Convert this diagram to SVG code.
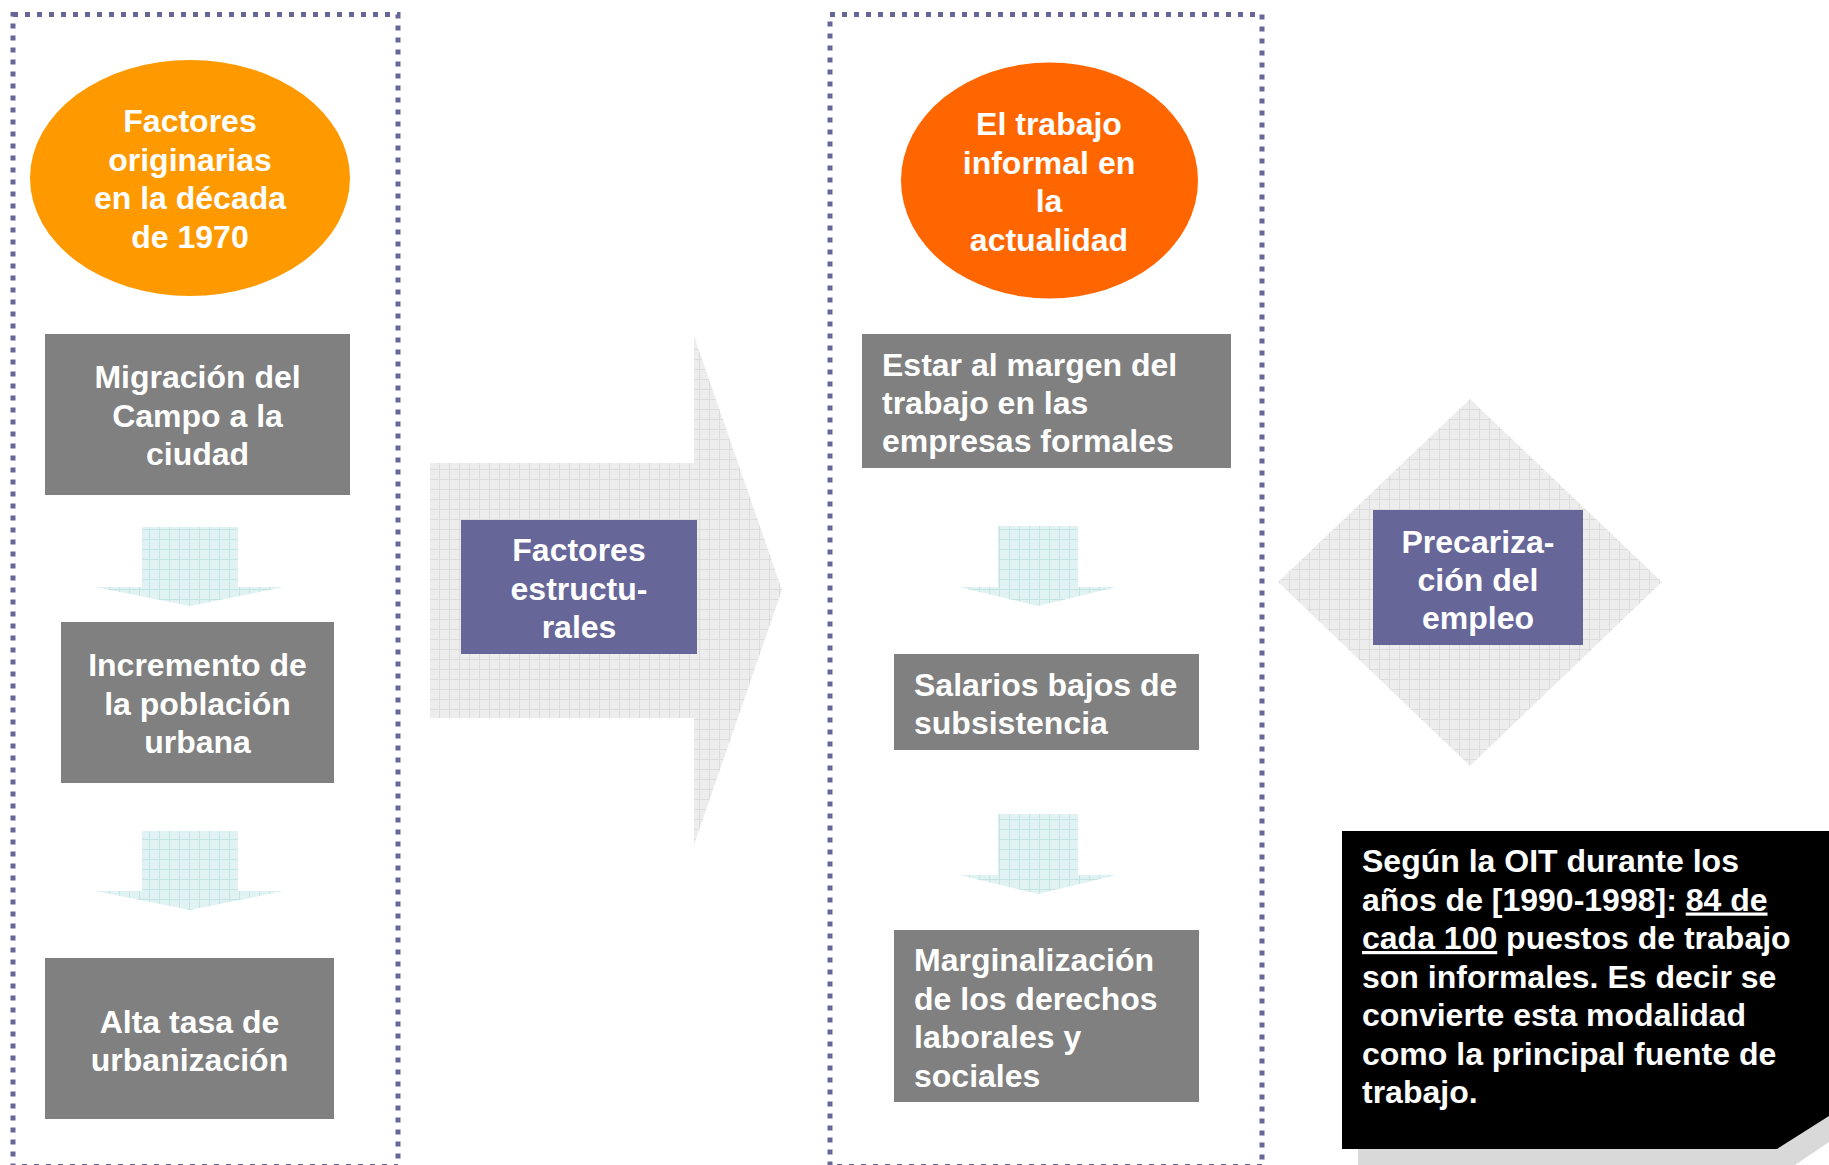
<svg xmlns="http://www.w3.org/2000/svg" width="1829" height="1165" viewBox="0 0 1829 1165">
  <style>
    text { font-family: "Liberation Sans", Arial, sans-serif; font-weight: bold; font-size: 32px; fill: #ffffff; }
    .c { text-anchor: middle; }
    .frame { fill: none; stroke: #666699; stroke-width: 5; stroke-dasharray: 5 7; }
    .gray { fill: #808080; }
    .purple { fill: #666699; }
    .u { text-decoration: underline; }
  </style>
  <defs>
    <pattern id="gridGray" width="10" height="10" patternUnits="userSpaceOnUse">
      <rect width="10" height="10" fill="#ededed"/>
      <path d="M9.5 0V10M0 9.5H10" stroke="#dcdcdc" stroke-width="1"/>
    </pattern>
    <pattern id="gridCyan" width="10" height="10" patternUnits="userSpaceOnUse">
      <rect width="10" height="10" fill="#e0f2f2"/>
      <path d="M9.5 0V10M0 9.5H10" stroke="#c4e3e3" stroke-width="1"/>
    </pattern>
  </defs>

  <rect width="1829" height="1165" fill="#ffffff"/>

  <!-- dotted frames around the two columns -->
  <rect class="frame" x="13" y="14.5" width="385" height="1152"/>
  <rect class="frame" x="830" y="14.5" width="432" height="1152"/>

  <!-- connectors -->
  <g id="connectors">
    <polygon fill="url(#gridCyan)" points="142,527 238,527 238,587 284,587 190,606 95,587 142,587"/>
    <polygon fill="url(#gridCyan)" points="142,831 238,831 238,891 284,891 190,910 95,891 142,891"/>
    <polygon fill="url(#gridCyan)" points="998,526 1078,526 1078,587 1117,587 1038,606 959,587 998,587"/>
    <polygon fill="url(#gridCyan)" points="998,814 1078,814 1078,875 1117,875 1038,894 959,875 998,875"/>
    <polygon fill="url(#gridGray)" points="430,463 694,463 694,336 782,590 694,845 694,718 430,718"/>
    <polygon fill="url(#gridGray)" points="1470,399 1662,582 1470,766 1278,582"/>
  </g>

  <g id="factores-1970">
    <ellipse cx="190" cy="178" rx="160" ry="118" fill="#ff9900"/>
    <text class="c" x="190" y="132">Factores</text>
    <text class="c" x="190" y="170.5">originarias</text>
    <text class="c" x="190" y="209">en la década</text>
    <text class="c" x="190" y="247.5">de 1970</text>
  </g>

  <g id="migracion">
    <rect class="gray" x="45" y="334" width="305" height="161"/>
    <text class="c" x="197.5" y="388">Migración del</text>
    <text class="c" x="197.5" y="427">Campo a la</text>
    <text class="c" x="197.5" y="465">ciudad</text>
  </g>

  <g id="incremento">
    <rect class="gray" x="61" y="622" width="273" height="161"/>
    <text class="c" x="197.5" y="676">Incremento de</text>
    <text class="c" x="197.5" y="714.5">la población</text>
    <text class="c" x="197.5" y="753">urbana</text>
  </g>

  <g id="urbanizacion">
    <rect class="gray" x="45" y="958" width="289" height="161"/>
    <text class="c" x="189.5" y="1033">Alta tasa de</text>
    <text class="c" x="189.5" y="1071">urbanización</text>
  </g>

  <g id="estructurales">
    <rect class="purple" x="461" y="520" width="236" height="134"/>
    <text class="c" x="579" y="561">Factores</text>
    <text class="c" x="579" y="599.5">estructu-</text>
    <text class="c" x="579" y="638">rales</text>
  </g>

  <g id="trabajo-informal">
    <ellipse cx="1049.5" cy="180.5" rx="148.5" ry="118" fill="#ff6600"/>
    <text class="c" x="1049" y="135">El trabajo</text>
    <text class="c" x="1049" y="173.5">informal en</text>
    <text class="c" x="1049" y="212">la</text>
    <text class="c" x="1049" y="250.5">actualidad</text>
  </g>

  <g id="margen">
    <rect class="gray" x="862" y="334" width="369" height="134"/>
    <text x="882" y="376">Estar al margen del</text>
    <text x="882" y="414">trabajo en las</text>
    <text x="882" y="452">empresas formales</text>
  </g>

  <g id="salarios">
    <rect class="gray" x="894" y="654" width="305" height="96"/>
    <text x="914" y="696">Salarios bajos de</text>
    <text x="914" y="734">subsistencia</text>
  </g>

  <g id="marginalizacion">
    <rect class="gray" x="894" y="930" width="305" height="172"/>
    <text x="914" y="971">Marginalización</text>
    <text x="914" y="1009.5">de los derechos</text>
    <text x="914" y="1048">laborales y</text>
    <text x="914" y="1086.5">sociales</text>
  </g>

  <g id="precarizacion">
    <rect class="purple" x="1373" y="510" width="210" height="135"/>
    <text class="c" x="1478" y="553">Precariza-</text>
    <text class="c" x="1478" y="591">ción del</text>
    <text class="c" x="1478" y="629">empleo</text>
  </g>

  <g id="nota-oit">
    <polygon fill="#d9d9d9" points="1358,847 1845,847 1845,1131 1795,1165 1358,1165"/>
    <polygon fill="#000000" points="1342,831 1829,831 1829,1116 1777,1149 1342,1149"/>
    <text x="1362" y="872">Según la OIT durante los</text>
    <text x="1362" y="910.5">años de [1990-1998]: <tspan class="u">84 de</tspan></text>
    <text x="1362" y="949"><tspan class="u">cada 100</tspan> puestos de trabajo</text>
    <text x="1362" y="987.5">son informales. Es decir se</text>
    <text x="1362" y="1026">convierte esta modalidad</text>
    <text x="1362" y="1064.5">como la principal fuente de</text>
    <text x="1362" y="1103">trabajo.</text>
  </g>
</svg>
